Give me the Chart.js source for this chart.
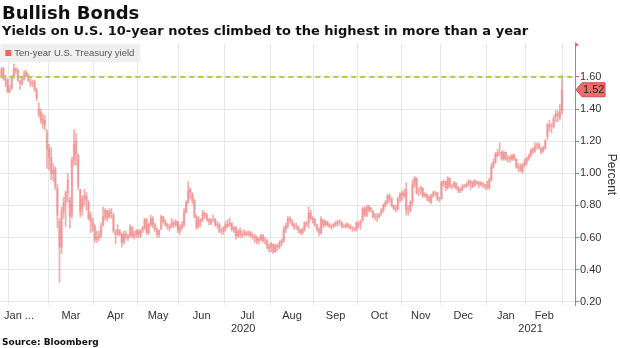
<!DOCTYPE html>
<html><head><meta charset="utf-8">
<script src="https://cdn.jsdelivr.net/npm/chart.js@4.4.1/dist/chart.umd.min.js"></script>
<style>
html,body{margin:0;padding:0;background:#fff;}
#wrap{position:relative;width:620px;height:348px;overflow:hidden;background:#fff;}
canvas{position:absolute;left:0;top:0;}
.t{position:absolute;left:2px;font-family:"DejaVu Sans";font-weight:bold;color:#111;white-space:nowrap;}
</style></head><body>
<div id="wrap">
<canvas id="c" width="620" height="348"></canvas>
<div class="t" style="top:2px;font-size:18px;line-height:22px">Bullish Bonds</div>
<div class="t" style="top:23px;font-size:13px;line-height:15px">Yields on U.S. 10-year notes climbed to the highest in more than a year</div>
<div class="t" style="top:337px;font-size:9px;line-height:11px">Source: Bloomberg</div>
</div>
<script>
// ---- data: daily ten-year U.S. Treasury yield (percent), late Jan 2020 .. 25 Feb 2021 ----
const monthLabels = ["Jan ...", "", "Mar", "Apr", "May", "Jun", "Jul", "Aug", "Sep", "Oct", "Nov", "Dec", "Jan", "Feb"];
const monthDays   = [5, 19, 22, 21, 20, 22, 22, 21, 21, 21, 19, 22, 19, 18];
const yearLabels  = ["2020", "2021"];
const yearMonths  = [12, 2];
const yTickValues = [0.20, 0.40, 0.60, 0.80, 1.00, 1.20, 1.40, 1.60];
const seriesName  = "Ten-year U.S. Treasury yield";
const markLevel   = 1.60;

const open = [
 1.63,1.60,1.65,1.59,1.58,
 1.51,1.53,1.60,1.65,1.64,1.57,1.56,1.59,1.63,1.61,1.57,1.56,1.57,1.52,1.40,1.38,1.34,1.33,1.25,
 1.15,1.10,1.00,1.03,0.91,0.70,0.54,0.76,0.82,0.88,0.83,0.74,1.08,1.20,1.11,0.90,0.78,0.84,0.86,0.82,0.74,0.69,
 0.67,0.59,0.61,0.61,0.68,0.73,0.77,0.73,0.76,0.74,0.63,0.62,0.64,0.62,0.57,0.62,0.61,0.61,0.66,0.61,0.62,
 0.64,0.61,0.64,0.66,0.71,0.63,0.68,0.72,0.68,0.65,0.62,0.65,0.73,0.70,0.68,0.67,0.67,0.69,0.68,0.70,
 0.64,0.66,0.68,0.76,0.82,0.90,0.87,0.83,0.73,0.67,0.70,0.71,0.75,0.74,0.71,0.69,0.71,0.71,0.68,0.68,0.64,0.64,
 0.66,0.68,0.68,0.69,0.65,0.66,0.61,0.64,0.62,0.62,0.63,0.62,0.63,0.61,0.61,0.60,0.58,0.59,0.61,0.58,0.58,0.54,
 0.54,0.56,0.51,0.55,0.54,0.57,0.58,0.65,0.67,0.72,0.71,0.68,0.67,0.67,0.65,0.63,0.65,0.69,0.69,0.75,0.72,
 0.71,0.68,0.65,0.63,0.71,0.68,0.70,0.68,0.67,0.67,0.68,0.69,0.70,0.69,0.67,0.67,0.68,0.67,0.66,0.66,0.65,
 0.68,0.68,0.71,0.78,0.74,0.79,0.77,0.76,0.73,0.73,0.73,0.75,0.77,0.80,0.82,0.86,0.84,0.80,0.78,0.78,0.84,
 0.87,0.86,0.90,0.77,0.77,0.82,0.93,0.97,0.89,0.90,0.91,0.86,0.87,0.85,0.82,0.86,0.88,0.88,0.84,
 0.84,0.94,0.95,0.91,0.97,0.92,0.92,0.94,0.91,0.89,0.90,0.92,0.92,0.93,0.95,0.94,0.92,0.95,0.94,0.93,0.94,0.93,
 0.92,0.91,0.96,1.04,1.07,1.11,1.13,1.13,1.09,1.13,1.09,1.09,1.09,1.11,1.09,1.04,1.04,1.01,1.05,
 1.07,1.09,1.11,1.14,1.14,1.17,1.18,1.16,1.14,1.16,1.23,1.30,1.29,1.29,1.35,1.37,1.35,1.39
];
const high = [
 1.66,1.66,1.66,1.61,1.59,
 1.55,1.61,1.68,1.66,1.65,1.58,1.60,1.64,1.64,1.62,1.59,1.58,1.58,1.53,1.44,1.40,1.37,1.36,1.27,
 1.18,1.16,1.06,1.04,0.93,0.72,0.79,0.85,0.89,1.00,0.85,1.10,1.27,1.25,1.12,0.90,0.86,0.90,0.88,0.83,0.76,0.72,
 0.68,0.64,0.64,0.69,0.79,0.78,0.77,0.78,0.78,0.75,0.65,0.68,0.65,0.63,0.64,0.64,0.62,0.68,0.67,0.64,0.65,
 0.65,0.65,0.67,0.72,0.72,0.69,0.74,0.73,0.69,0.66,0.65,0.74,0.73,0.71,0.69,0.68,0.72,0.71,0.71,0.70,
 0.68,0.70,0.78,0.83,0.95,0.91,0.88,0.84,0.74,0.73,0.72,0.77,0.76,0.75,0.72,0.72,0.74,0.72,0.70,0.69,0.66,0.67,
 0.70,0.71,0.72,0.69,0.67,0.67,0.65,0.66,0.64,0.65,0.64,0.64,0.64,0.63,0.62,0.61,0.60,0.62,0.62,0.60,0.59,0.56,
 0.57,0.56,0.56,0.56,0.58,0.59,0.67,0.69,0.73,0.73,0.71,0.69,0.69,0.67,0.65,0.66,0.70,0.70,0.79,0.77,0.73,
 0.72,0.68,0.66,0.73,0.71,0.71,0.70,0.69,0.68,0.69,0.70,0.71,0.71,0.70,0.68,0.69,0.69,0.68,0.67,0.66,0.70,
 0.70,0.71,0.79,0.79,0.80,0.80,0.79,0.77,0.75,0.75,0.75,0.78,0.81,0.83,0.87,0.87,0.85,0.80,0.80,0.85,0.88,
 0.89,0.90,0.94,0.80,0.83,0.96,0.98,0.97,0.91,0.92,0.91,0.88,0.87,0.86,0.87,0.89,0.89,0.88,0.85,
 0.95,0.96,0.95,0.98,0.97,0.93,0.95,0.94,0.92,0.91,0.93,0.93,0.94,0.96,0.96,0.95,0.96,0.95,0.95,0.95,0.94,0.93,
 0.95,0.97,1.06,1.09,1.13,1.15,1.19,1.14,1.14,1.13,1.11,1.11,1.12,1.12,1.09,1.06,1.06,1.06,1.09,
 1.10,1.12,1.15,1.16,1.19,1.19,1.19,1.16,1.17,1.21,1.31,1.33,1.31,1.36,1.39,1.39,1.43,1.61
];
const low = [
 1.58,1.60,1.58,1.54,1.50,
 1.50,1.52,1.59,1.62,1.57,1.52,1.55,1.58,1.60,1.57,1.54,1.54,1.51,1.45,1.35,1.31,1.28,1.27,1.03,
 1.02,0.96,0.95,0.90,0.66,0.32,0.50,0.72,0.67,0.82,0.66,0.72,1.05,1.05,0.90,0.73,0.74,0.80,0.77,0.71,0.63,0.64,
 0.57,0.57,0.58,0.60,0.67,0.71,0.70,0.72,0.72,0.63,0.56,0.61,0.61,0.54,0.56,0.59,0.58,0.60,0.60,0.59,0.60,
 0.60,0.60,0.63,0.65,0.62,0.62,0.67,0.66,0.64,0.60,0.60,0.65,0.69,0.67,0.65,0.64,0.66,0.66,0.67,0.63,
 0.62,0.65,0.67,0.75,0.81,0.84,0.81,0.72,0.65,0.66,0.67,0.70,0.72,0.70,0.68,0.68,0.70,0.67,0.66,0.63,0.62,0.62,
 0.64,0.66,0.67,0.64,0.63,0.59,0.60,0.60,0.60,0.61,0.61,0.61,0.60,0.59,0.57,0.56,0.56,0.58,0.57,0.56,0.53,0.51,
 0.51,0.50,0.51,0.52,0.53,0.55,0.57,0.63,0.66,0.69,0.67,0.65,0.65,0.63,0.62,0.62,0.64,0.67,0.66,0.71,0.69,
 0.67,0.64,0.61,0.62,0.66,0.67,0.67,0.66,0.65,0.66,0.67,0.67,0.68,0.66,0.66,0.66,0.66,0.65,0.64,0.64,0.64,
 0.66,0.65,0.70,0.73,0.73,0.76,0.76,0.72,0.71,0.70,0.72,0.74,0.76,0.79,0.81,0.82,0.79,0.77,0.76,0.77,0.82,
 0.83,0.85,0.74,0.74,0.76,0.80,0.91,0.87,0.86,0.87,0.85,0.85,0.83,0.82,0.81,0.85,0.86,0.83,0.82,
 0.84,0.92,0.89,0.90,0.91,0.90,0.91,0.90,0.88,0.88,0.89,0.91,0.91,0.92,0.90,0.91,0.92,0.93,0.91,0.92,0.91,0.90,
 0.90,0.90,0.95,1.03,1.06,1.10,1.11,1.08,1.08,1.08,1.07,1.07,1.08,1.08,1.03,1.01,1.01,1.00,1.04,
 1.05,1.08,1.10,1.12,1.13,1.15,1.15,1.12,1.13,1.15,1.21,1.26,1.25,1.28,1.32,1.32,1.33,1.37
];
const close = [
 1.61,1.65,1.59,1.58,1.51,
 1.52,1.60,1.65,1.64,1.58,1.56,1.59,1.62,1.61,1.58,1.56,1.56,1.52,1.47,1.37,1.33,1.31,1.30,1.15,
 1.10,1.00,1.02,0.92,0.74,0.54,0.76,0.82,0.88,0.96,0.73,1.08,1.18,1.12,0.92,0.76,0.84,0.86,0.83,0.72,0.70,0.67,
 0.59,0.60,0.60,0.67,0.73,0.77,0.72,0.76,0.75,0.64,0.62,0.65,0.62,0.57,0.62,0.61,0.60,0.66,0.61,0.62,0.64,
 0.62,0.64,0.66,0.71,0.63,0.68,0.72,0.68,0.65,0.62,0.64,0.73,0.70,0.68,0.67,0.66,0.69,0.68,0.70,0.65,
 0.66,0.68,0.76,0.82,0.89,0.88,0.83,0.73,0.66,0.71,0.71,0.75,0.74,0.71,0.70,0.71,0.71,0.68,0.68,0.64,0.64,0.66,
 0.68,0.67,0.69,0.65,0.66,0.61,0.64,0.62,0.62,0.63,0.62,0.63,0.61,0.61,0.60,0.58,0.59,0.61,0.58,0.58,0.54,0.53,
 0.56,0.51,0.55,0.54,0.57,0.58,0.65,0.67,0.72,0.71,0.68,0.67,0.67,0.65,0.63,0.65,0.69,0.69,0.75,0.72,0.71,
 0.68,0.65,0.63,0.72,0.68,0.70,0.68,0.67,0.67,0.68,0.69,0.70,0.70,0.67,0.67,0.68,0.67,0.66,0.66,0.65,0.69,
 0.68,0.70,0.78,0.74,0.79,0.77,0.78,0.73,0.73,0.73,0.74,0.77,0.80,0.82,0.86,0.84,0.80,0.78,0.78,0.84,0.87,
 0.86,0.88,0.77,0.77,0.82,0.93,0.97,0.88,0.89,0.91,0.86,0.87,0.85,0.83,0.86,0.88,0.88,0.84,0.84,
 0.94,0.95,0.91,0.97,0.92,0.92,0.94,0.91,0.89,0.90,0.92,0.92,0.93,0.95,0.94,0.92,0.96,0.94,0.93,0.94,0.93,0.92,
 0.92,0.96,1.04,1.07,1.12,1.13,1.13,1.09,1.13,1.09,1.09,1.10,1.11,1.09,1.04,1.04,1.02,1.05,1.07,
 1.09,1.11,1.14,1.15,1.17,1.17,1.16,1.13,1.16,1.20,1.30,1.29,1.29,1.34,1.37,1.36,1.38,1.52
];

// ---- derived helpers (index space of the trading-day axis) ----
const X_MIN = 0.5, X_MAX = 277.3;
const monthStart = [];
{ let s = 0; monthDays.forEach(d => { monthStart.push(s); s += d; }); }
const monthBounds = monthStart.slice(1).map(s => s - 0.5).concat([monthStart[monthStart.length-1] + monthDays[monthDays.length-1] - 0.5]);
const monthCenters = monthStart.map((s, k) => (s + s + monthDays[k] - 1) / 2);
monthCenters[0] = 9.5; // truncated first label kept inside the frame, as in the original
const yearCenters = [];
{ let m = 0; let from = X_MIN;
  yearMonths.forEach(n => { m += n; const end = m < monthDays.length ? monthStart[m] - 0.5 : X_MAX; yearCenters.push((from + end) / 2); from = end; }); }

const RED = '#e8676b';
const wickColor = 'rgba(236,104,104,0.55)';
const bodyColor = 'rgba(236,104,104,0.30)';

const legendPlugin = {
  id: 'boxLegend',
  afterDraw(chart) {
    const ctx = chart.ctx, a = chart.chartArea;
    ctx.save();
    ctx.fillStyle = 'rgba(238,238,238,0.92)';
    ctx.fillRect(a.left, a.top, 140, 18);
    ctx.fillStyle = '#f26464';
    ctx.fillRect(a.left + 5, a.top + 6, 6, 6);
    ctx.fillStyle = '#555';
    ctx.font = '9.5px "Liberation Sans"';
    ctx.textBaseline = 'middle';
    ctx.fillText(seriesName, a.left + 14, a.top + 9.5);
    // axis arrow at the top of the value axis
    ctx.fillStyle = RED;
    ctx.beginPath();
    ctx.moveTo(a.right, a.top - 2); ctx.lineTo(a.right + 4, a.top + 1); ctx.lineTo(a.right, a.top + 3); ctx.closePath(); ctx.fill();
    // last value tag
    const last = close[close.length - 1];
    const y = chart.scales.y.getPixelForValue(last);
    const x0 = a.right + 1;
    ctx.beginPath();
    ctx.moveTo(x0, y); ctx.lineTo(x0 + 6, y - 7); ctx.lineTo(x0 + 29, y - 7); ctx.lineTo(x0 + 29, y + 7); ctx.lineTo(x0 + 6, y + 7); ctx.closePath();
    ctx.fillStyle = '#f26b6b'; ctx.fill();
    ctx.strokeStyle = '#d04848'; ctx.lineWidth = 1; ctx.stroke();
    ctx.fillStyle = '#222';
    ctx.font = '11px "Liberation Sans"';
    ctx.textBaseline = 'middle';
    ctx.fillText(last.toFixed(2), x0 + 7, y + 0.5);
    ctx.restore();
  }
};

Chart.defaults.font.family = '"Liberation Sans"';
Chart.defaults.color = '#333';

const labelAxis = (weight, centers, labels, height, padding) => ({
  type: 'linear', position: 'bottom', min: X_MIN, max: X_MAX, weight: weight, offset: false,
  afterBuildTicks: s => { s.ticks = centers.map(v => ({value: v})); },
  afterFit: s => { s.height = height; },
  ticks: { autoSkip: false, maxRotation: 0, padding: padding, font: { size: 11 }, color: '#333',
    callback: (v, i) => labels[i] },
  grid: { display: false, drawTicks: false, tickLength: 0 }, border: { display: false }
});

new Chart(document.getElementById('c'), {
  data: {
    datasets: [
      { type: 'line', label: 'mark', xAxisID: 'x', yAxisID: 'y', order: 0,
        data: [{x: X_MIN, y: markLevel}, {x: X_MAX, y: markLevel}],
        borderColor: '#aed23a', borderWidth: 2, borderDash: [5, 4], pointRadius: 0, fill: false },
      { type: 'bar', label: seriesName + ' body', xAxisID: 'x', yAxisID: 'y', order: 1,
        data: close.map((c, i) => ({x: i, y: [open[i], c]})),
        backgroundColor: bodyColor, barThickness: 2, grouped: false, borderSkipped: false },
      { type: 'bar', label: seriesName, xAxisID: 'x', yAxisID: 'y', order: 2,
        data: close.map((c, i) => ({x: i, y: [low[i], high[i]]})),
        backgroundColor: wickColor, barThickness: 1, grouped: false, borderSkipped: false }
    ]
  },
  options: {
    responsive: false, animation: false, devicePixelRatio: 1,
    layout: { padding: { top: 44, left: 0, right: 0, bottom: 12 } },
    plugins: { legend: { display: false }, tooltip: { enabled: false } },
    scales: {
      x: { type: 'linear', position: 'bottom', min: X_MIN, max: X_MAX, weight: 0, offset: false,
        afterBuildTicks: s => { s.ticks = monthBounds.map(v => ({value: v})); },
        afterFit: s => { s.height = 0; },
        ticks: { display: false }, border: { display: false },
        grid: { color: '#e6e6e6', drawTicks: false, offset: false } },
      xm: labelAxis(1, monthCenters, monthLabels, 17, 4),
      xy: labelAxis(2, yearCenters, yearLabels, 14, 0),
      y: { type: 'linear', position: 'right', min: 0.18, max: 1.805,
        afterBuildTicks: s => { s.ticks = yTickValues.map(v => ({value: v})); },
        afterFit: s => { s.width = 45; },
        ticks: { padding: 1, font: { size: 11 }, color: '#333', callback: v => Number(v).toFixed(2) },
        grid: { color: '#e6e6e6', tickColor: RED, tickLength: 4 },
        border: { color: RED, width: 1 },
        title: { display: true, text: 'Percent', font: { size: 12 }, color: '#333', padding: 1 } }
    }
  },
  plugins: [legendPlugin]
});
</script>
</body></html>
